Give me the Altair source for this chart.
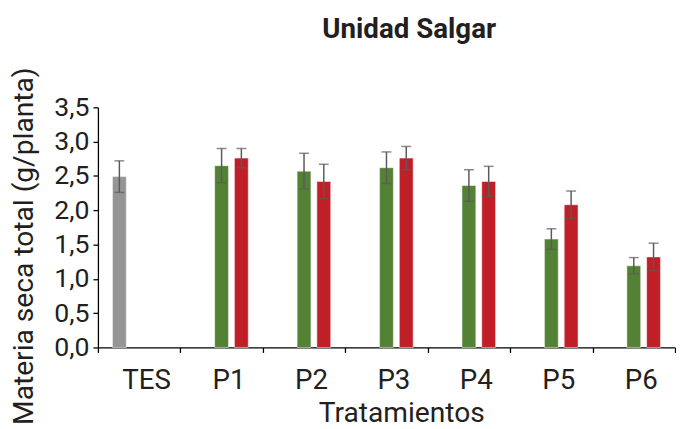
import altair as alt
import pandas as pd

categories = ["TES", "P1", "P2", "P3", "P4", "P5", "P6"]
series_names = ["Testigo", "Serie 1", "Serie 2"]
# values per series (None = no bar)
testigo_vals = [2.49, None, None, None, None, None, None]
testigo_err = [0.23, None, None, None, None, None, None]
serie1_vals = [None, 2.65, 2.57, 2.62, 2.36, 1.58, 1.19]
serie1_err = [None, 0.25, 0.26, 0.23, 0.23, 0.15, 0.12]
serie2_vals = [None, 2.76, 2.42, 2.76, 2.42, 2.08, 1.32]
serie2_err = [None, 0.14, 0.25, 0.17, 0.22, 0.20, 0.20]
y_ticks = [0.0, 0.5, 1.0, 1.5, 2.0, 2.5, 3.0, 3.5]
colors = ["#959595", "#548235", "#c11f27"]

rows = []
for name, vals, errs in zip(series_names,
                            [testigo_vals, serie1_vals, serie2_vals],
                            [testigo_err, serie1_err, serie2_err]):
    for c, v, e in zip(categories, vals, errs):
        if v is None:
            continue
        rows.append({"cat": c, "serie": name, "value": v,
                     "lo": v - e, "hi": v + e})
df = pd.DataFrame(rows)

FONT = "Roboto"
TXT = "#231f20"

x_axis = alt.Axis(labelAngle=0, tickBand="extent", tickSize=5,
                  labelFontSize=28, labelFont=FONT, labelColor=TXT,
                  labelBaseline="alphabetic", labelPadding=37,
                  labelOffset=7,
                  titleFontSize=28.5, titleFont=FONT, titleColor=TXT,
                  titleFontWeight="normal", titleBaseline="alphabetic",
                  titleX=307, titleY=75, titleAlign="center",
                  domainColor="black", tickColor="black",
                  domainWidth=1.3, tickWidth=1.3)
y_axis = alt.Axis(values=y_ticks, grid=False,
                  labelExpr="replace(format(datum.value, '.1f'), '.', ',')",
                  labelOverlap=False,
                  tickSize=5, labelPadding=4,
                  labelFontSize=27, labelFont=FONT, labelColor=TXT,
                  titleFontSize=28.5, titleFont=FONT, titleColor=TXT,
                  titleFontWeight="normal", titleBaseline="alphabetic",
                  titleAngle=-90, titleAlign="center",
                  titleX=-66, titleY=140,
                  domainColor="black", tickColor="black",
                  domainWidth=1.3, tickWidth=1.3)
x_scale = alt.Scale(paddingInner=0, paddingOuter=0)
y_scale = alt.Scale(domain=[0, 3.5], nice=False)
XT = "Tratamientos"
YT = "Materia seca total (g/planta)"

x = alt.X("cat:N", sort=categories, title=XT, scale=x_scale, axis=x_axis)
xo = alt.XOffset("serie:N", sort=series_names,
                 scale=alt.Scale(paddingInner=0.3, paddingOuter=0.735))

base = alt.Chart(df)

bars = base.mark_bar(stroke="white", strokeOpacity=0.5, strokeWidth=1).encode(
    x=x, xOffset=xo,
    y=alt.Y("value:Q", title=YT, scale=y_scale, axis=y_axis),
    color=alt.Color("serie:N", sort=series_names,
                    scale=alt.Scale(domain=series_names, range=colors),
                    legend=None),
)

err = base.mark_rule(color="#5a5a5a", strokeWidth=1.5).encode(
    x=x, xOffset=xo,
    y=alt.Y("lo:Q", title=YT, scale=y_scale, axis=y_axis), y2="hi:Q")
cap_hi = base.mark_tick(color="#5a5a5a", thickness=1.5, size=10).encode(
    x=x, xOffset=xo,
    y=alt.Y("hi:Q", title=YT, scale=y_scale, axis=y_axis))
cap_lo = base.mark_tick(color="#5a5a5a", thickness=1.5, size=10).encode(
    x=x, xOffset=xo,
    y=alt.Y("lo:Q", title=YT, scale=y_scale, axis=y_axis))

chart = alt.layer(bars, err, cap_hi, cap_lo).properties(
    width=584, height=243,
    autosize=alt.AutoSizeParams(type="none"),
    padding={"left": 91, "top": 98, "right": 1, "bottom": 80},
    title=alt.TitleParams("Unidad Salgar", fontSize=28, font=FONT,
                          fontWeight="bold", color=TXT, anchor="middle",
                          frame="group", offset=23, dx=23),
).configure_view(stroke=None)

chart.save("out.html", embed_options={"renderer": "svg", "actions": False})
